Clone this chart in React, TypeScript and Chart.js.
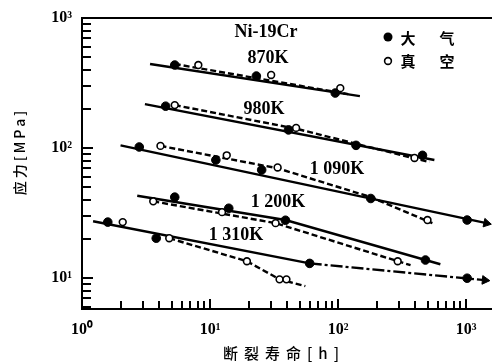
import React, { useEffect, useRef, useState } from "react";
import { Chart, registerables } from "chart.js";
Chart.register(...registerables);

type P = [number, number];

// ---- axis ranges & tick labels ----
const X_MIN = 1;
const X_MAX = 1455;
const Y_MIN = 5.8;
const Y_MAX = 1000;
const xDecades = [1, 10, 100, 1000];
const xTickLabels = ["10⁰", "10¹", "10²", "10³"];
const yDecades = [10, 100, 1000];
const yTickLabels = ["10¹", "10²", "10³"];

// ---- 870K ----
const air870: P[] = [[5.3, 435], [23, 358], [95, 265]];
const vac870: P[] = [[8.1, 435], [30, 365], [104, 289]];
const solid870: P[] = [[3.4, 443], [148, 251]];
const dash870: P[] = [[5.3, 443], [120, 260]];

// ---- 980K ----
const air980: P[] = [[4.5, 210], [41, 138], [138, 105], [456, 88]];
const vac980: P[] = [[5.3, 214], [47, 143], [395, 84]];
const solid980: P[] = [[3.1, 218], [565, 81]];
const dash980: P[] = [[5.3, 214], [47, 141], [517, 78]];

// ---- 1090K ----
const air1090: P[] = [[2.8, 102], [11.1, 81], [25.3, 68], [180, 41], [1018, 28]];
const vac1090: P[] = [[4.1, 104], [13.5, 88], [33.7, 71], [499, 28]];
const solid1090: P[] = [[2.0, 105], [1440, 26.5]];
const dash1090: P[] = [[4.1, 104], [33.7, 70], [180, 42], [545, 26.5]];

// ---- 1200K ----
const air1200: P[] = [[5.3, 42], [14, 34.5], [38.8, 27.9], [481, 13.8]];
const vac1200: P[] = [[3.6, 39], [12.4, 32.2], [32.5, 26.5], [292, 13.5]];
const solid1200: P[] = [[2.7, 43], [38.8, 28], [629, 12.8]];
const dash1200: P[] = [[3.6, 39], [32.5, 26.5], [368, 12.6]];

// ---- 1310K ----
const air1310: P[] = [[1.59, 27], [3.8, 20.3], [60, 13], [1018, 10]];
const vac1310: P[] = [[2.08, 27], [4.8, 20.3], [19.4, 13.5], [34.9, 9.8], [39.5, 9.8]];
const solid1310: P[] = [[1.22, 27.4], [60, 13]];
const dashdot1310: P[] = [[60, 13], [1400, 9.66]];
const dash1310: P[] = [[4.8, 20.3], [19.4, 13.5], [35, 9.8], [55.5, 8.7]];

const toXY = (a: P[]) => a.map(([x, y]) => ({ x, y }));

const airSet = (a: P[]) => ({
  data: toXY(a),
  showLine: false,
  pointRadius: 4.3,
  pointBackgroundColor: "#000",
  pointBorderColor: "#000",
  pointBorderWidth: 1,
  order: 0,
  clip: false,
});
const vacSet = (a: P[]) => ({
  data: toXY(a),
  showLine: false,
  pointRadius: 3.4,
  pointBackgroundColor: "#fff",
  pointBorderColor: "#000",
  pointBorderWidth: 1.6,
  order: 0,
  clip: false,
});
const lineSet = (a: P[], dash: number[]) => ({
  data: toXY(a),
  showLine: true,
  borderColor: "#000",
  borderWidth: 2.4,
  borderDash: dash,
  tension: 0,
  pointRadius: 0,
  order: 1,
  clip: false,
});
// arrow heads at the ends of the extrapolated lines
const arrowSet = (a: P[], rot: number) => ({
  data: toXY([a[a.length - 1]]),
  showLine: false,
  pointStyle: "triangle",
  pointRotation: rot,
  pointRadius: 5,
  pointBackgroundColor: "#000",
  pointBorderColor: "#000",
  pointBorderWidth: 1,
  order: 0,
  clip: false,
});

const SOLID: number[] = [];
const DASH = [6, 3];
const DASHDOT = [12, 3, 3, 3];

type Mark = { x: number; y: number; w: number; h: number };

// frame lines and inward tick marks, positioned through the chart's own scales
const frameMarks = (chart: any): Mark[] => {
  const xs = chart.scales.x;
  const ys = chart.scales.y;
  const L = Math.round(xs.getPixelForValue(X_MIN));
  const R = Math.round(xs.getPixelForValue(X_MAX)) + 5;
  const B = Math.round(ys.getPixelForValue(Y_MIN));
  const T = Math.round(ys.getPixelForValue(Y_MAX));
  const out: Mark[] = [
    { x: L - 1, y: T - 1, w: 2, h: B - T + 2 },
    { x: L - 1, y: B - 1, w: R - L + 1, h: 2 },
    { x: L - 1, y: T - 1, w: R - L + 1, h: 2 },
  ];
  for (let d = 0; d <= 3; d++) {
    for (let m = 1; m <= 9; m++) {
      const v = m * Math.pow(10, d);
      if (v >= X_MIN && v <= X_MAX) {
        const px = Math.round(xs.getPixelForValue(v));
        const len = m === 1 ? 10 : 8;
        out.push({ x: px - 1, y: B - len, w: 1.6, h: len });
      }
      if (v >= Y_MIN && v <= Y_MAX) {
        const py = Math.round(ys.getPixelForValue(v));
        const len = m === 1 ? 11 : 9;
        out.push({ x: L, y: py - 1, w: len, h: 1.6 });
      }
    }
  }
  return out;
};

const spacedText = (ctx: any, text: string, cx: number, cy: number, spacing: number) => {
  const chars = Array.from(text);
  const widths = chars.map((c) => ctx.measureText(c).width);
  const total = widths.reduce((s, w) => s + w, 0) + spacing * (chars.length - 1);
  let x = cx - total / 2;
  ctx.textAlign = "left";
  chars.forEach((c, i) => {
    ctx.fillText(c, x, cy);
    x += widths[i] + spacing;
  });
};

const annotPlugin = {
  id: "annot",
  afterDraw(chart: any) {
    const { ctx } = chart;
    ctx.save();
    ctx.fillStyle = "#000";
    frameMarks(chart).forEach((m) => ctx.fillRect(m.x, m.y, m.w, m.h));

    // curve labels
    ctx.textAlign = "center";
    ctx.textBaseline = "middle";
    ctx.font = "bold 18px 'Liberation Serif', serif";
    ctx.fillText("Ni-19Cr", 266, 32);
    ctx.fillText("870K", 268, 58);
    ctx.fillText("980K", 264, 109);
    ctx.fillText("1 090K", 337, 169);
    ctx.fillText("1 200K", 278, 202);
    ctx.fillText("1 310K", 236, 235);
    // legend
    ctx.beginPath();
    ctx.arc(388, 37, 4.5, 0, Math.PI * 2);
    ctx.fill();
    ctx.beginPath();
    ctx.strokeStyle = "#000";
    ctx.lineWidth = 1.6;
    ctx.arc(388, 61, 3.4, 0, Math.PI * 2);
    ctx.stroke();
    ctx.font = "bold 15px 'Noto Sans CJK SC', sans-serif";
    ctx.fillText("大", 408, 38);
    ctx.fillText("气", 447, 38);
    ctx.fillText("真", 408, 61);
    ctx.fillText("空", 447, 61);
    // axis titles
    ctx.font = "500 15px 'Noto Sans CJK SC', sans-serif";
    spacedText(ctx, "断裂寿命[h]", 281, 353, 6);
    ctx.translate(20, 153);
    ctx.rotate(-Math.PI / 2);
    ctx.font = "500 14px 'Noto Sans CJK SC', sans-serif";
    spacedText(ctx, "应力[MPa]", 0, 0, 3);
    ctx.restore();
  },
};

export default function App() {
  const ref = useRef<HTMLCanvasElement | null>(null);
  const [marks, setMarks] = useState<Mark[]>([]);
  useEffect(() => {
    if (!ref.current) return;
    const chart = new Chart(ref.current, {
      type: "scatter",
      data: {
        datasets: [
          airSet(air870), vacSet(vac870),
          airSet(air980), vacSet(vac980),
          airSet(air1090), vacSet(vac1090),
          airSet(air1200), vacSet(vac1200),
          airSet(air1310), vacSet(vac1310),
          arrowSet(solid1090, 102), arrowSet(dashdot1310, 95.5),
          lineSet(solid870, SOLID), lineSet(dash870, DASH),
          lineSet(solid980, SOLID), lineSet(dash980, DASH),
          lineSet(solid1090, SOLID), lineSet(dash1090, DASH),
          lineSet(solid1200, SOLID), lineSet(dash1200, DASH),
          lineSet(solid1310, SOLID), lineSet(dashdot1310, DASHDOT), lineSet(dash1310, DASH),
        ] as any,
      },
      options: {
        animation: false,
        responsive: false,
        devicePixelRatio: 1,
        events: [],
        layout: { padding: { top: 18, right: 3, left: 0, bottom: 0 } },
        plugins: { legend: { display: false }, tooltip: { enabled: false } },
        scales: {
          x: {
            type: "logarithmic",
            min: X_MIN,
            max: X_MAX,
            afterBuildTicks: (s: any) => {
              s.ticks = xDecades.map((v) => ({ value: v }));
            },
            afterFit: (s: any) => {
              s.height = 55;
            },
            grid: { display: false },
            border: { display: false },
            ticks: {
              color: "#000",
              padding: 3,
              maxRotation: 0,
              autoSkip: false,
              font: { family: "'Liberation Serif', serif", size: 16, weight: 700 },
              callback: (v: any) => {
                const i = xDecades.indexOf(Number(v));
                return i >= 0 ? xTickLabels[i] : "";
              },
            },
          },
          y: {
            type: "logarithmic",
            min: Y_MIN,
            max: Y_MAX,
            afterBuildTicks: (s: any) => {
              s.ticks = yDecades.map((v) => ({ value: v }));
            },
            afterFit: (s: any) => {
              s.width = 82;
            },
            grid: { display: false },
            border: { display: false },
            ticks: {
              color: "#000",
              padding: 2,
              autoSkip: false,
              font: { family: "'Liberation Serif', serif", size: 16, weight: 700 },
              callback: (v: any) => {
                const i = yDecades.indexOf(Number(v));
                return i >= 0 ? yTickLabels[i] : "";
              },
            },
          },
        },
      } as any,
      plugins: [annotPlugin],
    });
    setMarks(frameMarks(chart));
    return () => chart.destroy();
  }, []);
  return (
    <div style={{ position: "fixed", left: 0, top: 0, width: 493, height: 364, background: "#fff" }}>
      <canvas ref={ref} width={493} height={364} style={{ display: "block" }} />
      <div style={{ position: "absolute", left: 0, top: 0, width: 493, height: 364, pointerEvents: "none" }}>
        {marks.map((m, i) => (
          <div
            key={i}
            style={{ position: "absolute", left: m.x, top: m.y, width: m.w, height: m.h, background: "#000" }}
          />
        ))}
      </div>
    </div>
  );
}
